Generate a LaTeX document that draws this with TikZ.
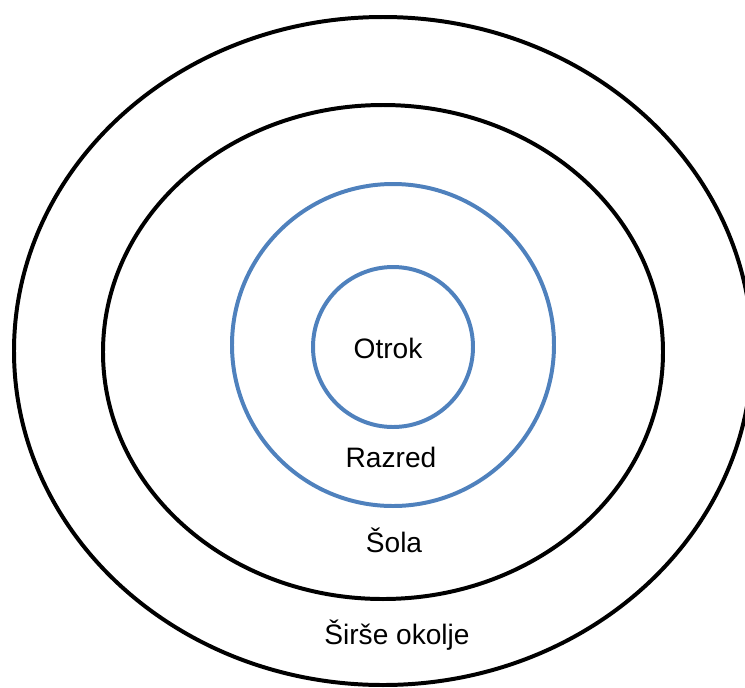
\documentclass[tikz,border=0pt]{standalone}
\usepackage{fontspec}
\setmainfont{Liberation Sans}
\definecolor{ringblue}{RGB}{79,129,189}
\begin{document}
\begin{tikzpicture}[x=0.03cm, y=-0.03cm,
    ring/.style={line width=3.4pt},
    ringtext/.style={font=\fontsize{24}{28}\selectfont, inner sep=0pt, anchor=base}]
  \useasboundingbox (0,0) rectangle (745,687);
  \clip (0,0) rectangle (745,687);

  % ========== black ellipses ==========
  % wider surroundings
  \draw[ring, black] (383,351) ellipse[x radius=369, y radius=334];
  % school
  \draw[ring, black] (383,352) ellipse[x radius=280, y radius=247];

  % ========== blue circles ==========
  % class
  \draw[ring, ringblue] (393,345) circle[radius=161];
  % child
  \draw[ring, ringblue] (393,347) circle[radius=80];

  % labels, one in each ring
  \node[ringtext] (otrok) at (388,358) {Otrok};
  \node[ringtext] (razred) at (391,467) {Razred};
  \node[ringtext] (sola) at (394,552) {Šola};
  \node[ringtext] (okolje) at (397,644) {Širše okolje};

\end{tikzpicture}
\end{document}
